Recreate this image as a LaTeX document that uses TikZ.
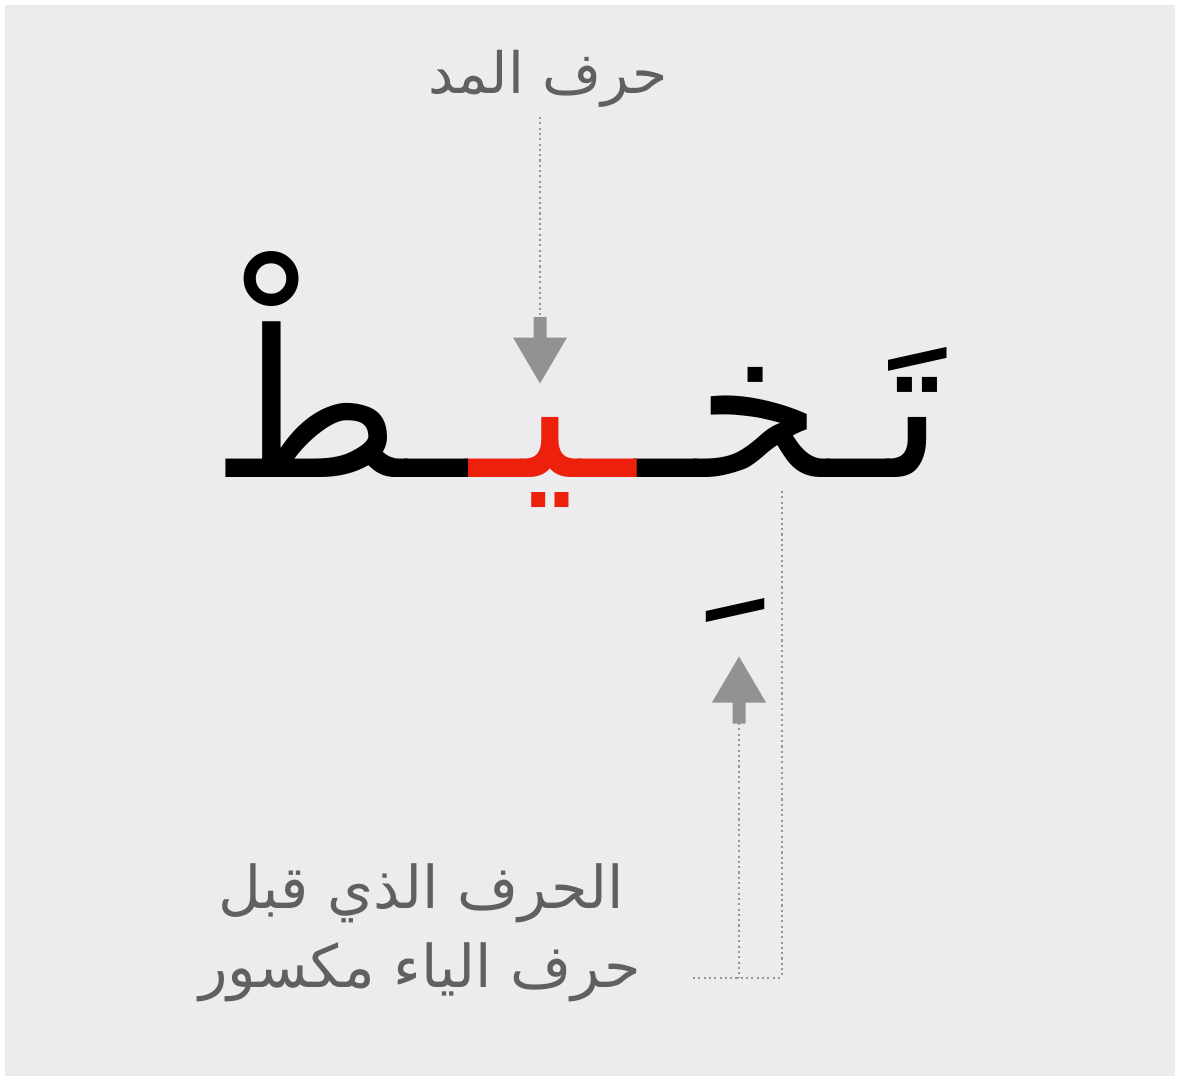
\documentclass[tikz,border=0pt]{standalone}
\usepackage{fontspec}
\TeXXeTstate=1
\newfontfamily\arabicfont[Script=Arabic]{DejaVu Sans}
\definecolor{bg}{RGB}{236,236,238}
\definecolor{arrowgray}{RGB}{146,146,146}
\definecolor{dotgray}{RGB}{150,150,150}
\definecolor{labelgray}{RGB}{96,96,96}
\definecolor{redya}{RGB}{237,32,14}
\tikzset{
  word/.style={inner sep=0pt, outer sep=0pt, font=\fontsize{205}{215}\arabicfont},
  lbl/.style={inner sep=0pt, outer sep=0pt, text=labelgray, font=\fontsize{57}{65}\arabicfont},
  lblb/.style={lbl, font=\fontsize{59}{67}\arabicfont},
  dotline/.style={draw=dotgray, line width=2.1pt, dash pattern=on 2.1pt off 3.2pt},
  blockarrow/.style={fill=arrowgray, draw=none}
}
\begin{document}
\begin{tikzpicture}[x=1pt,y=-1pt]
\useasboundingbox (0,0) rectangle (1178,1077);
\fill[white] (0,0) rectangle (1178,1077);
\fill[bg] (5,5) rectangle (1175,1076);
% labels
\node[lbl, anchor=base] (top) at (548,93) {\beginR حرف المد\endR};
\node[lblb, anchor=base] (bot1) at (421,908) {\beginR الحرف الذي قبل\endR};
\node[lblb, anchor=base] (bot2) at (420,987) {\beginR حرف الياء مكسور\endR};
% word
\node[word, anchor=base east] (wa) at (945,477) {\beginR تَـخـ\endR};
\node[word, text=redya, anchor=base east] (wb) at (wa.base west) {\scalebox{0.93}[1]{\beginR ـيـ\endR}};
\node[word, anchor=base east] (wc) at (wb.base west) {\beginR ـطْ\endR};
% kasra
\begin{scope}
\clip (690,598) rectangle (790,670);
\node[word, anchor=base] (kasra) at (736,594) {\smash{\beginR ـِ\endR}};
\end{scope}
% down arrow
\coordinate (dtop) at (540,117);
\coordinate (dshaft) at (540,317);
\draw[dotline] (dtop) -- (dshaft);
\fill[blockarrow] (533.5,317) -- (546.5,317) -- (546.5,337.5) -- (567,337.5) -- (540,383.5) -- (513,337.5) -- (533.5,337.5) -- cycle;
% up arrow
\coordinate (ushaft) at (739,723);
\coordinate (ucorner) at (739,978);
\coordinate (rcorner) at (782,978);
\coordinate (rtop) at (782,491);
\coordinate (lend) at (693,978);
\fill[blockarrow] (732.5,723.5) -- (745.5,723.5) -- (745.5,702.5) -- (766,702.5) -- (739,656.5) -- (712,702.5) -- (732.5,702.5) -- cycle;
\draw[dotline] (ushaft) -- (ucorner);
\draw[dotline] (rtop) -- (rcorner);
\draw[dotline] (lend) -- (rcorner);
\end{tikzpicture}
\end{document}
